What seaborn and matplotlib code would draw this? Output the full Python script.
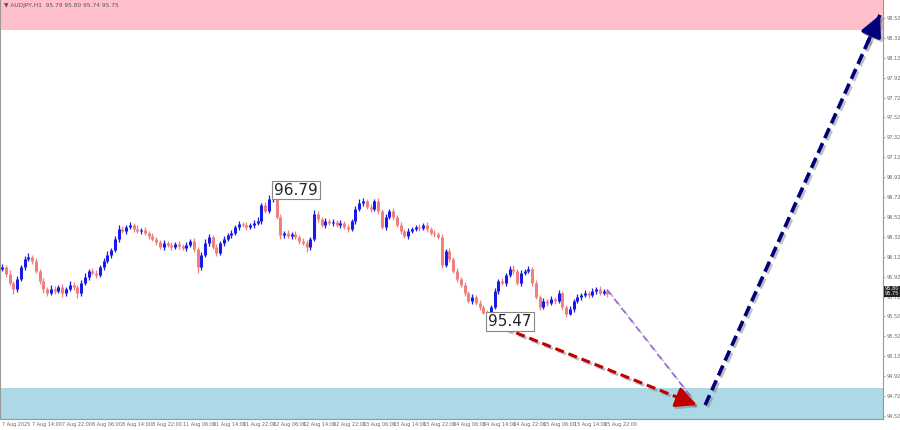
import numpy as np
import pandas as pd
import matplotlib
matplotlib.use("Agg")
import matplotlib.pyplot as plt
import matplotlib.patheffects as pe
import seaborn as sns

# ---------------- data ----------------
symbol_title = "\u25BC AUDJPY,H1  95.79 95.80 95.74 95.75"
first_open = 96.00
closes = [
    96.02, 95.95, 95.86, 95.80, 95.90, 96.02, 96.10, 96.12, 96.08, 95.98,
    95.88, 95.80, 95.76, 95.80, 95.78, 95.82, 95.76, 95.80, 95.84, 95.82,
    95.76, 95.86, 95.92, 95.98, 95.96, 95.94, 96.02, 96.08, 96.14, 96.19,
    96.30, 96.40, 96.38, 96.42, 96.44, 96.40, 96.38, 96.39, 96.36, 96.33,
    96.30, 96.27, 96.22, 96.26, 96.24, 96.22, 96.25, 96.23, 96.21, 96.24,
    96.28, 96.20, 96.02, 96.14, 96.26, 96.32, 96.22, 96.16, 96.26, 96.30,
    96.34, 96.36, 96.42, 96.45, 96.44, 96.42, 96.44, 96.46, 96.48, 96.64,
    96.58, 96.70, 96.76, 96.52, 96.34, 96.36, 96.33, 96.35, 96.32, 96.28,
    96.26, 96.22, 96.30, 96.55, 96.50, 96.44, 96.48, 96.46, 96.47, 96.44,
    96.46, 96.42, 96.40, 96.48, 96.60, 96.66, 96.68, 96.62, 96.60, 96.68,
    96.58, 96.42, 96.52, 96.58, 96.52, 96.44, 96.38, 96.33, 96.38, 96.40,
    96.42, 96.41, 96.44, 96.40, 96.36, 96.35, 96.32, 96.04, 96.18, 96.10,
    95.98, 95.90, 95.84, 95.76, 95.68, 95.72, 95.66, 95.62, 95.56, 95.52,
    95.62, 95.78, 95.88, 95.86, 95.94, 96.00, 95.98, 95.86, 95.96, 95.98,
    96.00, 95.86, 95.72, 95.62, 95.68, 95.66, 95.70, 95.68, 95.76, 95.62,
    95.55, 95.60, 95.68, 95.72, 95.74, 95.76, 95.74, 95.78, 95.80, 95.76,
    95.78, 95.75,
]
# wick extents in pips (0.01)
wick_up = [
    3, 2, 4, 2, 3, 2, 3, 4, 2, 3, 2, 3, 2, 4, 3, 2, 3, 2, 4, 3,
    2, 3, 4, 2, 3, 3, 2, 3, 4, 2, 3, 4, 3, 2, 3, 2, 4, 2, 3, 2,
    3, 2, 2, 3, 2, 3, 2, 3, 2, 3, 2, 3, 2, 3, 4, 3, 2, 3, 2, 3,
    2, 3, 2, 3, 2, 3, 2, 3, 4, 2, 3, 4, 3, 2, 3, 2, 3, 2, 3, 2,
    3, 3, 2, 4, 3, 2, 3, 2, 3, 2, 3, 2, 3, 2, 3, 4, 3, 2, 3, 2,
    3, 2, 3, 2, 3, 2, 3, 2, 3, 2, 2, 3, 2, 3, 2, 3, 2, 3, 2, 3,
    2, 3, 2, 3, 2, 3, 2, 3, 2, 3, 2, 3, 2, 3, 2, 3, 4, 2, 3, 2,
    3, 2, 3, 2, 3, 2, 3, 2, 3, 2, 2, 3, 2, 3, 2, 3, 2, 3, 2, 3,
    2, 2,
]
wick_dn = [
    2, 3, 2, 5, 3, 2, 3, 2, 3, 2, 3, 4, 3, 2, 3, 2, 4, 3, 2, 3,
    5, 3, 2, 3, 2, 3, 2, 3, 2, 3, 2, 3, 2, 3, 2, 3, 2, 3, 2, 3,
    2, 3, 2, 3, 2, 3, 2, 3, 2, 3, 2, 3, 6, 3, 2, 3, 2, 3, 2, 3,
    2, 3, 2, 3, 2, 3, 2, 3, 2, 3, 2, 2, 3, 2, 4, 3, 2, 3, 2, 3,
    2, 5, 3, 2, 3, 2, 3, 2, 3, 2, 3, 2, 3, 2, 3, 2, 3, 2, 3, 2,
    3, 2, 3, 2, 3, 2, 3, 2, 3, 2, 2, 3, 2, 3, 2, 3, 2, 3, 2, 3,
    2, 3, 2, 3, 2, 3, 2, 3, 2, 5, 3, 2, 3, 2, 3, 2, 3, 2, 3, 2,
    2, 3, 2, 3, 2, 3, 2, 3, 2, 3, 4, 2, 3, 2, 3, 2, 3, 2, 3, 2,
    2, 3,
]
x_labels = ["7 Aug 2025", "7 Aug 14:00", "7 Aug 22:00", "8 Aug 06:00", "8 Aug 14:00",
            "8 Aug 22:00", "11 Aug 06:00", "11 Aug 14:00", "11 Aug 22:00", "12 Aug 06:00",
            "12 Aug 14:00", "12 Aug 22:00", "13 Aug 06:00", "13 Aug 14:00", "13 Aug 22:00",
            "14 Aug 06:00", "14 Aug 14:00", "14 Aug 22:00", "15 Aug 06:00", "15 Aug 14:00",
            "15 Aug 22:00"]
x_label_pos = [0, 8, 16, 24, 32, 40, 48, 56, 64, 72, 80, 88, 96, 104, 112, 120, 128,
               136, 144, 152, 160]
y_ticks = [94.52, 94.72, 94.92, 95.12, 95.32, 95.52, 95.72, 95.92, 96.12, 96.32,
           96.52, 96.72, 96.92, 97.12, 97.32, 97.52, 97.72, 97.92, 98.12, 98.32, 98.52]
current_prices = [95.80, 95.75]

resistance_zone = [98.40, 98.72]
support_zone = [94.45, 94.80]
marked_high = (72, 96.79)
marked_low = (129, 95.47)
wave_red = [(129.8, 95.46), (184.8, 94.63)]
wave_blue = [(187.0, 94.63), (233.5, 98.55)]
wave_purple = [(160.9, 95.79), (183.5, 94.70)]
x_range = (-0.55, 234.3)
y_range = (94.49, 98.70)

# ---------------- build table ----------------
opens = [first_open] + closes[:-1]
df = pd.DataFrame({"idx": np.arange(len(closes)), "open": opens, "close": closes})
df["high"] = np.maximum(df["open"], df["close"]) + np.array(wick_up) / 100.0
df["low"] = np.minimum(df["open"], df["close"]) - np.array(wick_dn) / 100.0
df["up"] = df["close"] >= df["open"]

# ---------------- figure ----------------
sns.set_style("white")
plt.rcParams["font.family"] = ["DejaVu Sans"]
fig = plt.figure(figsize=(9, 4.3), dpi=100)
ax = fig.add_axes([0.0, 11 / 430, 883 / 900, 419 / 430])
ax.set_xlim(*x_range)
ax.set_ylim(*y_range)

ax.axhspan(resistance_zone[0], resistance_zone[1], color="#FFC0CB", zorder=0, lw=0)
ax.axhspan(support_zone[0], support_zone[1], color="#ADD8E6", zorder=0, lw=0)

up_col = "#1a1aE6"
dn_col = "#F08080"
colors = np.where(df["up"], up_col, dn_col)
ax.vlines(df["idx"], df["low"], df["high"], colors=colors, lw=0.9, zorder=3)
ax.vlines(df["idx"], df["open"], df["close"], colors=colors, lw=2.2, zorder=3)

shadow = [pe.SimpleLineShadow(offset=(1.5, -1.5), shadow_color="#777777", alpha=0.45), pe.Normal()]


def wave(points, color, lw, head, dashes):
    pts = pd.DataFrame(points, columns=["x", "y"])
    sns.lineplot(data=pts, x="x", y="y", ax=ax, color=color, lw=lw, sort=False,
                 estimator=None, zorder=5)
    line = ax.lines[-1]
    line.set_dashes(dashes)
    line.set_path_effects(shadow)
    (x0, y0), (x1, y1) = points
    if head:
        t = 0.93
        ax.annotate("", xy=(x1, y1), xytext=(x0 + (x1 - x0) * t, y0 + (y1 - y0) * t),
                    arrowprops=dict(arrowstyle="-|>,head_length=0.9,head_width=0.45",
                                    color=color, lw=lw, shrinkA=0, shrinkB=0,
                                    mutation_scale=14, path_effects=shadow),
                    zorder=6)


wave(wave_purple, "#9966DD", 1.2, False, (4, 3))
wave(wave_red, "#C00000", 2.2, True, (3, 1.6))
wave(wave_blue, "#00007A", 2.6, True, (3, 1.5))

box = dict(boxstyle="square,pad=0.12", fc="white", ec="#888888", lw=0.8)
ax.text(marked_high[0] + 0.4, marked_high[1], f"{marked_high[1]:.2f}", fontsize=11,
        ha="left", va="center", bbox=box, zorder=7)
ax.text(marked_low[0] + 0.3, marked_low[1], f"{marked_low[1]:.2f}", fontsize=11,
        ha="left", va="center", bbox=box, zorder=7)

# axes styling
ax.spines["top"].set_visible(False)
for s in ["left", "right", "bottom"]:
    ax.spines[s].set_color("#999999")
    ax.spines[s].set_linewidth(0.8)
ax.yaxis.tick_right()
ax.set_yticks(y_ticks)
ax.set_yticklabels([f"{v:.2f}" for v in y_ticks], fontsize=3.6, color="#666666")
ax.tick_params(axis="y", length=1.5, width=0.5, color="#888888", pad=1.0)
ax.set_xticks(x_label_pos)
ax.set_xticklabels(x_labels, fontsize=3.5, color="#666666", ha="left")
ax.tick_params(axis="x", length=1.5, width=0.5, color="#888888", pad=1.0)
ax.set_xlabel("")
ax.set_ylabel("")

for p in current_prices:
    ax.text(1.002, p, f"{p:.2f}", transform=ax.get_yaxis_transform(), fontsize=3.6,
            color="white", ha="left", va="center",
            bbox=dict(boxstyle="square,pad=0.12", fc="#222222", ec="none"), clip_on=False)

ax.text(0.004, 0.992, symbol_title, transform=ax.transAxes, fontsize=4.2,
        color="#555555", ha="left", va="top", zorder=8)

fig.savefig("out.png", dpi=100)
